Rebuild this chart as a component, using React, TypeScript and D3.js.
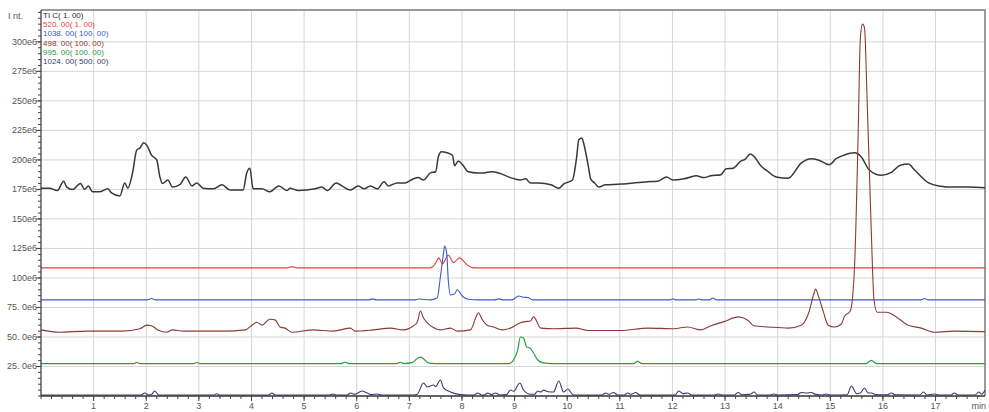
import React from 'react';
import * as d3 from 'd3';

// retention time (min), intensity (x1e6)
const TIC = [
  [0, 176], [0.16, 176], [0.31, 174], [0.43, 182], [0.49, 177], [0.6, 175], [0.75, 180], [0.83, 175], [0.9, 178],
  [0.98, 173], [1.11, 173], [1.27, 175.5], [1.34, 172], [1.5, 169.5], [1.59, 180.5], [1.65, 176], [1.74, 189],
  [1.82, 208.5], [1.88, 210], [1.95, 214.5], [2.01, 212.5], [2.1, 204], [2.2, 200], [2.26, 185.5], [2.31, 180],
  [2.41, 183], [2.5, 177], [2.64, 179], [2.75, 185.5], [2.87, 178], [2.96, 180.5], [3.08, 176], [3.27, 175.5],
  [3.44, 179], [3.59, 174.5], [3.84, 174.5], [3.91, 189], [3.97, 193], [4.03, 175.5], [4.2, 175.5], [4.35, 173],
  [4.52, 178], [4.68, 174], [4.73, 176], [4.89, 174], [5.21, 175.5], [5.34, 177], [5.44, 174], [5.61, 180.5],
  [5.72, 178], [5.88, 174.5], [6.03, 178], [6.14, 175.5], [6.26, 178], [6.39, 175.5], [6.52, 181.5], [6.6, 178],
  [6.77, 180.5], [6.92, 180.5], [7.08, 184], [7.17, 185], [7.27, 183], [7.4, 189], [7.5, 190], [7.55, 202.5],
  [7.61, 207], [7.72, 206], [7.82, 204], [7.86, 195], [7.93, 199], [8.01, 196], [8.12, 190], [8.3, 189],
  [8.41, 189], [8.56, 190], [8.7, 189], [8.92, 185], [9.11, 183], [9.21, 184], [9.3, 180.5], [9.46, 180.5],
  [9.69, 179], [9.84, 176], [9.93, 179.5], [10.1, 183], [10.18, 202.5], [10.22, 217], [10.28, 218.5],
  [10.31, 214.5], [10.39, 197.5], [10.45, 183.5], [10.52, 180.5], [10.6, 177], [10.73, 179], [11.02, 179.5],
  [11.26, 180.5], [11.53, 181.5], [11.72, 182], [11.89, 185.5], [12.01, 183], [12.22, 184], [12.45, 186.5],
  [12.6, 185], [12.73, 186.5], [12.92, 187.5], [13.02, 192.5], [13.15, 193], [13.3, 199], [13.38, 200.5],
  [13.48, 205], [13.55, 203], [13.68, 195], [13.82, 190], [13.97, 185.5], [14.2, 184.5], [14.45, 197.5],
  [14.64, 201], [14.77, 200], [14.98, 196], [15.11, 201], [15.26, 204], [15.46, 206], [15.59, 202.5],
  [15.74, 191.5], [15.97, 187], [16.16, 189.5], [16.33, 195.5], [16.48, 196.5], [16.6, 191.5], [16.87, 180.5],
  [17.06, 178], [17.36, 177], [17.63, 177], [17.94, 176.5],
];

const M520 = [
  [0, 108.5], [4.68, 108.5], [4.77, 109.6], [4.86, 108.5], [7.38, 108.5], [7.44, 109.2], [7.5, 112.7], [7.56, 117],
  [7.63, 111.9], [7.74, 119.5], [7.84, 113], [7.95, 117], [8.1, 111], [8.22, 108.5], [17.94, 108.5],
];

const M1038 = [
  [0, 81.4], [2.02, 81.4], [2.1, 82.6], [2.18, 81.4], [6.22, 81.4], [6.3, 82.3], [6.38, 81.4], [7.1, 81.4],
  [7.17, 82.2], [7.4, 81.4], [7.53, 83], [7.59, 100.8], [7.65, 121], [7.67, 127], [7.71, 121], [7.74, 98],
  [7.78, 85.5], [7.86, 86.5], [7.91, 90], [8.01, 84.5], [8.12, 82], [8.3, 81.4], [8.62, 81.4], [8.7, 82.3],
  [8.78, 81.4], [8.95, 81.4], [9.08, 84.7], [9.18, 83.6], [9.25, 83.5], [9.34, 81.4], [11.94, 81.4], [12.01, 82.3],
  [12.08, 81.4], [12.43, 81.4], [12.5, 82.2], [12.57, 81.4], [12.7, 81.4], [12.77, 83], [12.84, 81.4],
  [16.72, 81.4], [16.79, 82.6], [16.86, 81.4], [17.94, 81.4],
];

const M498 = [
  [0, 56], [0.35, 54], [0.87, 55], [1.55, 55], [1.88, 57], [2.01, 60], [2.1, 59.5], [2.22, 56], [2.39, 54],
  [2.5, 56], [2.7, 55], [3.46, 55], [3.88, 56], [4.01, 60], [4.1, 62.5], [4.2, 60], [4.35, 65], [4.45, 64.5],
  [4.54, 58.5], [4.64, 57.5], [4.77, 54], [5.17, 56], [5.55, 55], [5.88, 57.5], [5.97, 55], [6.31, 56],
  [6.64, 57.5], [6.88, 56], [7.08, 59.5], [7.15, 62.5], [7.21, 72], [7.27, 66], [7.34, 62], [7.44, 58.5],
  [7.59, 56], [7.78, 57.5], [7.91, 55], [8.16, 56], [8.26, 66], [8.31, 70.5], [8.39, 64.5], [8.48, 60],
  [8.6, 58.5], [8.77, 56], [8.92, 57.5], [9.11, 62], [9.21, 63], [9.3, 63.5], [9.36, 67], [9.5, 57.5],
  [9.75, 57], [10.17, 57.5], [10.39, 55.5], [11.02, 55.5], [11.53, 57.5], [12.03, 57], [12.29, 58.5],
  [12.54, 56], [12.73, 59.5], [12.98, 63], [13.25, 67], [13.44, 64], [13.55, 59.5], [13.82, 58.5],
  [14.2, 57.5], [14.45, 60], [14.59, 70.5], [14.69, 87], [14.72, 90.5], [14.78, 84], [14.87, 71], [14.96, 60],
  [15.08, 58.5], [15.21, 61], [15.27, 67.5], [15.38, 72], [15.46, 109], [15.53, 223], [15.57, 302], [15.61, 315],
  [15.65, 312], [15.7, 251], [15.78, 138], [15.83, 81.5], [15.89, 71], [16.07, 71], [16.22, 68], [16.48, 60],
  [16.73, 57.5], [16.98, 54], [17.36, 55], [17.94, 54.5],
];

const M995 = [
  [0, 27.5], [1.76, 27.5], [1.82, 28.6], [1.88, 27.5], [2.9, 27.5], [2.96, 28.4], [3.02, 27.5], [5.7, 27.5],
  [5.78, 28.6], [5.86, 27.5], [6.76, 27.5], [6.83, 28.6], [6.9, 27.5], [7.05, 28.2], [7.13, 31], [7.21, 33],
  [7.27, 31.5], [7.36, 28], [7.5, 27.5], [8.9, 27.5], [8.98, 30.5], [9.06, 39], [9.11, 50], [9.17, 49.2],
  [9.23, 41.5], [9.29, 40.7], [9.36, 36.4], [9.44, 30.5], [9.55, 28], [9.7, 27.5], [11.26, 27.5], [11.34, 29.4],
  [11.42, 27.5], [15.68, 27.5], [15.78, 30.2], [15.88, 27.5], [17.94, 27.5],
];

const M1024 = [
  [0, 0.85], [1.9, 0.85], [1.97, 2.5], [2.05, 0.85], [2.1, 1.2], [2.16, 4.2], [2.24, 0.85], [3.28, 0.85],
  [3.34, 1.9], [3.4, 0.85], [4.33, 0.85], [4.39, 2.5], [4.45, 0.85], [5.49, 0.85], [5.55, 1.7], [5.61, 0.85],
  [5.82, 0.85], [5.88, 2.5], [5.96, 1.4], [6.1, 4.2], [6.2, 2.5], [6.28, 1.2], [6.39, 1.7], [6.47, 0.85],
  [7.08, 0.85], [7.15, 1.5], [7.27, 11], [7.34, 7.6], [7.46, 9.3], [7.5, 8], [7.59, 13.6], [7.65, 6.8],
  [7.78, 3.4], [7.97, 1.2], [8.1, 0.85], [8.22, 0.85], [8.3, 2.5], [8.38, 0.85], [8.42, 0.85], [8.49, 2.5],
  [8.56, 1.2], [8.64, 2.5], [8.72, 0.85], [8.85, 1.2], [8.92, 5.1], [8.98, 4], [9.1, 11], [9.17, 5.1], [9.3, 1.5],
  [9.38, 1.5], [9.44, 4.2], [9.5, 3.4], [9.55, 5], [9.64, 3.6], [9.74, 3.4], [9.84, 12.7], [9.93, 3.4],
  [10.01, 5.9], [10.12, 0.85], [10.66, 0.85], [10.73, 2.5], [10.8, 1.5], [10.88, 3], [10.96, 0.85], [11.08, 0.85],
  [11.15, 2.5], [11.22, 1.5], [11.3, 3], [11.38, 0.85], [12.05, 0.85], [12.12, 4.2], [12.2, 2], [12.29, 2.5],
  [12.37, 0.85], [12.8, 0.85], [12.87, 1.7], [12.94, 0.85], [13.18, 0.85], [13.25, 3], [13.32, 1], [13.4, 1.3],
  [13.48, 1.5], [13.55, 3.4], [13.62, 0.85], [13.86, 0.85], [13.93, 1.7], [14.0, 0.85], [14.38, 1.2], [14.45, 3],
  [14.55, 2.5], [14.64, 3], [14.72, 1.4], [14.85, 0.85], [14.92, 1.7], [15.0, 0.85], [15.32, 1], [15.4, 8.5],
  [15.5, 2], [15.57, 2.5], [15.65, 6.8], [15.72, 2.5], [15.78, 2.5], [15.86, 1.2], [16.08, 1], [16.16, 2.5],
  [16.24, 1], [16.7, 0.85], [16.77, 3.4], [16.84, 0.85], [16.98, 1.7], [17.06, 0.85], [17.29, 0.85], [17.36, 2.5],
  [17.43, 0.85], [17.75, 0.85], [17.82, 3.4], [17.88, 1.5], [17.94, 5],
];

const legendLabels = ['TI C( 1. 00)', '520. 00( 1. 00)', '1038. 00( 100. 00)', '498. 00( 100. 00)', '995. 00( 100. 00)', '1024. 00( 500. 00)'];
const yTickLabels = ['25. 0e6', '50. 0e6', '75. 0e6', '100e6', '125e6', '150e6', '175e6', '200e6', '225e6', '250e6', '275e6', '300e6'];
const xTickLabels = ['1', '2', '3', '4', '5', '6', '7', '8', '9', '10', '11', '12', '13', '14', '15', '16', '17'];

const traces = [
  { name: 'tic', data: TIC, color: '#383838', width: 1.5 },
  { name: '520', data: M520, color: '#e5403a', width: 1.1 },
  { name: '1038', data: M1038, color: '#3c5ac6', width: 1.1 },
  { name: '995', data: M995, color: '#24a03a', width: 1.2 },
  { name: '1024', data: M1024, color: '#3a3a74', width: 1.1 },
  { name: '498', data: M498, color: '#8c3a36', width: 1.1 },
];
const legendColors = ['#2a2a2a', '#e5403a', '#3c5ac6', '#8c3a36', '#24a03a', '#3a3a74'];

const W = 989, H = 412;

export default function App() {
  const x = d3.scaleLinear().domain([0, 17.94]).range([41, 985]);
  const y = d3.scaleLinear().domain([0, 327]).range([396, 10]);

  const line = d3.line<number[]>()
    .x(d => x(d[0]))
    .y(d => y(d[1]))
    .curve(d3.curveMonotoneX);

  const yMajor = d3.range(25, 301, 25);
  const yMinor = d3.range(0, 326, 5);
  const xMajor = d3.range(1, 18, 1);
  const xMinor = d3.range(0, 17.95, 0.2);
  const font = '"Liberation Sans", Arial, sans-serif';

  return (
    <svg width={W} height={H} style={{ position: 'absolute', left: 0, top: 0, background: '#fff' }} fontFamily={font}>
      {/* grid */}
      {yMajor.map(v => (
        <line key={'gy' + v} x1={x(0)} x2={x(17.94)} y1={y(v)} y2={y(v)} stroke="#d6d6d6" strokeWidth={1} />
      ))}
      {xMajor.map(t => (
        <line key={'gx' + t} x1={x(t)} x2={x(t)} y1={y(327)} y2={y(0)} stroke="#d6d6d6" strokeWidth={1} />
      ))}

      {/* frame */}
      <line x1={x(0)} x2={x(17.94) + 1} y1={10} y2={10} stroke="#9a9a9a" strokeWidth={2} />
      <line x1={x(17.94)} x2={x(17.94)} y1={10} y2={396} stroke="#9a9a9a" strokeWidth={2} />

      {/* traces */}
      {traces.map(s => (
        <path key={s.name} d={line(s.data) || ''} fill="none" stroke={s.color} strokeWidth={s.width} strokeLinejoin="round" />
      ))}

      {/* y axis */}
      <line x1={x(0)} x2={x(0)} y1={10} y2={396} stroke="#333" strokeWidth={1.2} />
      {yMinor.map(v => (
        <line key={'ym' + v} x1={x(0) - 3} x2={x(0)} y1={y(v)} y2={y(v)} stroke="#444" strokeWidth={1} />
      ))}
      {yMajor.map((v, i) => (
        <g key={'yl' + v}>
          <line x1={x(0) - 5} x2={x(0)} y1={y(v)} y2={y(v)} stroke="#444" strokeWidth={1} />
          <text x={37} y={y(v) + 3} fontSize={9} textAnchor="end" fill="#555">{yTickLabels[i]}</text>
        </g>
      ))}
      <text x={8} y={19} fontSize={9} fill="#555">I nt.</text>

      {/* x axis */}
      <line x1={x(0)} x2={x(17.94)} y1={396} y2={396} stroke="#333" strokeWidth={1.5} />
      {xMinor.map(t => (
        <line key={'xm' + t.toFixed(1)} x1={x(t)} x2={x(t)} y1={396} y2={399} stroke="#444" strokeWidth={1} />
      ))}
      {xMajor.map((t, i) => (
        <g key={'xl' + t}>
          <line x1={x(t)} x2={x(t)} y1={396} y2={401} stroke="#444" strokeWidth={1} />
          <text x={x(t)} y={409} fontSize={9} textAnchor="middle" fill="#555">{xTickLabels[i]}</text>
        </g>
      ))}
      <text x={986} y={409} fontSize={9} textAnchor="end" fill="#555">min</text>

      {/* legend */}
      {legendLabels.map((l, i) => (
        <text key={l} x={43} y={18 + i * 9.2} fontSize={8} fill={legendColors[i]}>{l}</text>
      ))}
    </svg>
  );
}
